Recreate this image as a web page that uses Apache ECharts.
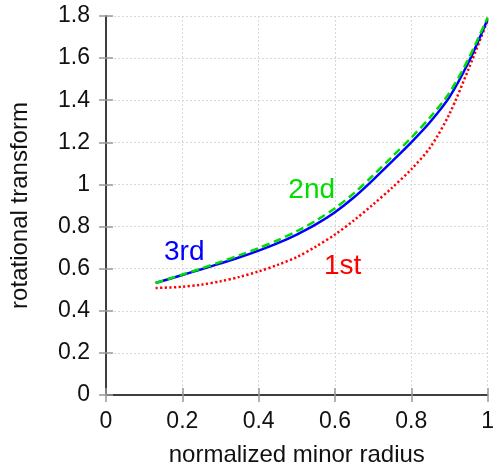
<!DOCTYPE html>
<html>
<head>
<meta charset="utf-8">
<script src="https://cdn.jsdelivr.net/npm/echarts@6/dist/echarts.min.js"></script>
<style>html,body{margin:0;padding:0;background:#fff;}#c{width:497px;height:472px;}</style>
</head>
<body>
<div id="c"></div>
<script>
// Data
var radius = [0.13, 0.2, 0.25, 0.3, 0.35, 0.4, 0.45, 0.5, 0.55, 0.6, 0.65, 0.7, 0.75, 0.8, 0.85, 0.9, 0.95, 1.0];
var iota3rd = [0.532, 0.570, 0.597, 0.625, 0.654, 0.686, 0.721, 0.762, 0.810, 0.868, 0.939, 1.022, 1.110, 1.200, 1.298, 1.415, 1.580, 1.785];
var iota2nd = [0.532, 0.572, 0.601, 0.632, 0.664, 0.698, 0.735, 0.778, 0.828, 0.887, 0.959, 1.043, 1.132, 1.222, 1.320, 1.436, 1.597, 1.793];
var iota1st = [0.508, 0.514, 0.524, 0.540, 0.561, 0.587, 0.618, 0.655, 0.705, 0.762, 0.830, 0.905, 0.985, 1.072, 1.177, 1.335, 1.548, 1.778];
var xTicks = [0, 0.2, 0.4, 0.6, 0.8, 1];
var yTicks = [0, 0.2, 0.4, 0.6, 0.8, 1, 1.2, 1.4, 1.6, 1.8];
var labelNames = ['3rd', '2nd', '1st'];
var labelX = [0.205, 0.539, 0.620];
var labelY = [0.680, 0.970, 0.612];

function pairs(xs, ys) { return xs.map(function (x, i) { return [x, ys[i]]; }); }
function fmt(v) { return String(Math.round(v * 10) / 10); }

var FONT = 'Liberation Sans';
var frame = { show: true, lineStyle: { color: '#333', width: 1.5 } };
var tick = { show: true, inside: true, length: 7, lineStyle: { color: '#999', width: 1.5 } };
var split = { show: true, lineStyle: { color: '#d8d8d8', width: 1, type: [2, 2] } };

var colors = ['#0000ff', '#00dd00', '#ff0000'];

var chart = echarts.init(document.getElementById('c'), null, { renderer: 'canvas' });
chart.setOption({
  animation: false,
  backgroundColor: '#fff',
  grid: { left: 104, right: 8, top: 16, bottom: 75, containLabel: false },
  xAxis: [{
    type: 'value', min: xTicks[0], max: xTicks[xTicks.length - 1], interval: 0.2,
    name: 'normalized minor radius', nameLocation: 'middle', nameGap: 48,
    nameTextStyle: { fontFamily: FONT, fontSize: 24, color: '#111' },
    axisLine: frame, axisTick: tick, splitLine: split,
    axisLabel: { fontFamily: FONT, fontSize: 23, color: '#111', margin: 15, formatter: fmt }
  }, {
    type: 'value', position: 'top', min: xTicks[0], max: xTicks[xTicks.length - 1], interval: 0.2,
    axisLine: frame, axisTick: tick, splitLine: { show: false }, axisLabel: { show: false }
  }],
  yAxis: [{
    type: 'value', min: yTicks[0], max: yTicks[yTicks.length - 1], interval: 0.2,
    name: 'rotational transform', nameLocation: 'middle', nameGap: 74, nameRotate: 90,
    nameTextStyle: { fontFamily: FONT, fontSize: 24, color: '#111' },
    axisLine: frame, axisTick: tick, splitLine: split,
    axisLabel: { fontFamily: FONT, fontSize: 23, color: '#111', margin: 16, formatter: fmt }
  }, {
    type: 'value', position: 'right', min: yTicks[0], max: yTicks[yTicks.length - 1], interval: 0.2,
    axisLine: frame, axisTick: tick, splitLine: { show: false }, axisLabel: { show: false }
  }],
  series: [
    {
      name: '1st', type: 'line', data: pairs(radius, iota1st), smooth: 0.3, showSymbol: false, z: 3,
      lineStyle: { color: colors[2], width: 2.5, type: [2.2, 2.4] }
    },
    {
      name: '3rd', type: 'line', data: pairs(radius, iota3rd), smooth: 0.3, showSymbol: false, z: 4,
      lineStyle: { color: colors[0], width: 2.5 }
    },
    {
      name: '2nd', type: 'line', data: pairs(radius, iota2nd), smooth: 0.3, showSymbol: false, z: 5,
      lineStyle: { color: colors[1], width: 2.5, type: [8, 4.5] }
    },
    {
      name: 'labels', type: 'line', data: [], z: 6,
      markPoint: {
        symbol: 'circle', symbolSize: 0, silent: true,
        data: labelNames.map(function (n, i) {
          return {
            coord: [labelX[i], labelY[i]],
            label: { show: true, position: 'inside', formatter: n, fontFamily: FONT, fontSize: 28, color: colors[i] }
          };
        })
      }
    }
  ]
});
</script>
</body>
</html>
